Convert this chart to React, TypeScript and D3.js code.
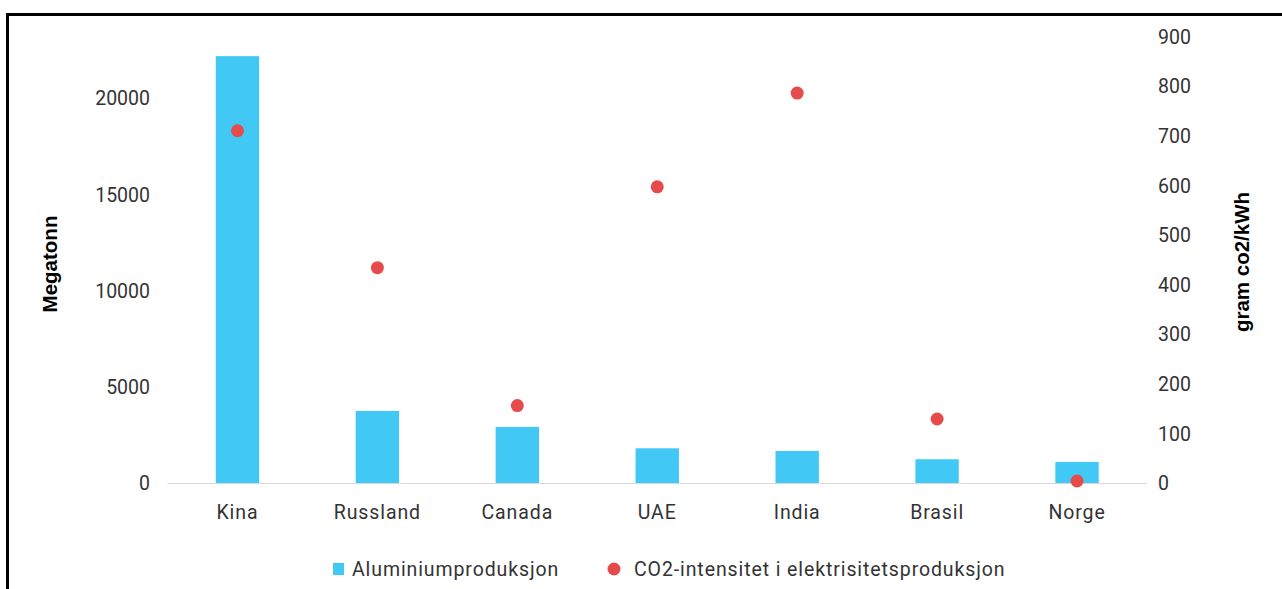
import React from "react";
import * as d3 from "d3";

// Aluminium production per country (megatonn, left axis) and
// CO2 intensity of electricity production (g CO2/kWh, right axis)
const countries = ["Kina", "Russland", "Canada", "UAE", "India", "Brasil", "Norge"];
const aluminium = [22200, 3770, 2940, 1830, 1690, 1260, 1120];
const co2Intensity = [711, 435, 157, 598, 787, 130, 5];
const leftTicks = [0, 5000, 10000, 15000, 20000];
const rightTicks = [0, 100, 200, 300, 400, 500, 600, 700, 800, 900];

const W = 1282;
const H = 589;
const margin = { left: 167.5, right: 135, top: 37, bottom: 105.5 };

const BAR = "#42C8F4";
const DOT = "#E54B4B";
const TEXT = "#333333";
const FONT = "Roboto, 'Noto Sans', sans-serif";
const TITLE_FONT = "'Liberation Sans', Arial, sans-serif";

export default function App() {
  const x0 = margin.left;
  const x1 = W - margin.right;
  const yTop = margin.top;
  const yBase = H - margin.bottom;

  const x = d3.scaleBand<string>().domain(countries).range([x0, x1]).paddingInner(0).paddingOuter(0);
  const yLeft = d3.scaleLinear().domain([0, 23195]).range([yBase, yTop]);
  const yRight = d3.scaleLinear().domain([0, 900]).range([yBase, yTop]);
  const barW = x.bandwidth() * 0.31;
  const cx = (c: string) => x(c)! + x.bandwidth() / 2;

  return (
    <svg
      width={W}
      height={H}
      style={{ position: "absolute", left: 0, top: 0, background: "#fff" }}
      fontFamily={FONT}
    >
      {/* frame */}
      <line x1={7.5} x2={W} y1={14.5} y2={14.5} stroke="#000" strokeWidth={3} />
      <line x1={7.5} x2={7.5} y1={13} y2={H} stroke="#000" strokeWidth={3} />

      {/* bars */}
      {countries.map((c, i) => (
        <rect
          key={c}
          x={cx(c) - barW / 2}
          y={yLeft(aluminium[i])}
          width={barW}
          height={yBase - yLeft(aluminium[i])}
          fill={BAR}
        />
      ))}

      {/* baseline */}
      <line x1={x0} x2={x1} y1={yBase} y2={yBase} stroke="#d9d9d9" strokeWidth={1.2} />

      {/* dots */}
      {countries.map((c, i) => (
        <circle key={c} cx={cx(c)} cy={yRight(co2Intensity[i])} r={6.5} fill={DOT} />
      ))}

      {/* left ticks */}
      {leftTicks.map((t) => (
        <text key={t} x={150} y={yLeft(t)} dy="0.35em" textAnchor="end" fontSize={19.5} fill={TEXT}>
          {t}
        </text>
      ))}

      {/* right ticks */}
      {rightTicks.map((t) => (
        <text key={t} x={1158} y={yRight(t)} dy="0.35em" textAnchor="start" fontSize={19.5} fill={TEXT}>
          {t}
        </text>
      ))}

      {/* category labels */}
      {countries.map((c) => (
        <text
          key={c}
          x={cx(c)}
          y={512}
          dy="0.35em"
          textAnchor="middle"
          fontSize={19.5}
          letterSpacing={0.9}
          fill={TEXT}
        >
          {c}
        </text>
      ))}

      {/* axis titles */}
      <text
        transform={`translate(50,264) rotate(-90)`}
        textAnchor="middle"
        dy="0.35em"
        fontFamily={TITLE_FONT}
        fontWeight="bold"
        fontSize={20.5}
        fill="#000"
      >
        Megatonn
      </text>
      <text
        transform={`translate(1242,262) rotate(-90)`}
        textAnchor="middle"
        dy="0.35em"
        fontFamily={TITLE_FONT}
        fontWeight="bold"
        fontSize={20.5}
        fill="#000"
      >
        gram co2/kWh
      </text>

      {/* legend */}
      <rect x={333} y={563} width={11} height={12} fill={BAR} />
      <text x={352} y={569} dy="0.35em" fontSize={19.5} letterSpacing={0.9} fill={TEXT}>
        Aluminiumproduksjon
      </text>
      <circle cx={614} cy={569} r={6.5} fill={DOT} />
      <text x={634} y={569} dy="0.35em" fontSize={19.5} letterSpacing={0.9} fill={TEXT}>
        CO2-intensitet i elektrisitetsproduksjon
      </text>
    </svg>
  );
}
